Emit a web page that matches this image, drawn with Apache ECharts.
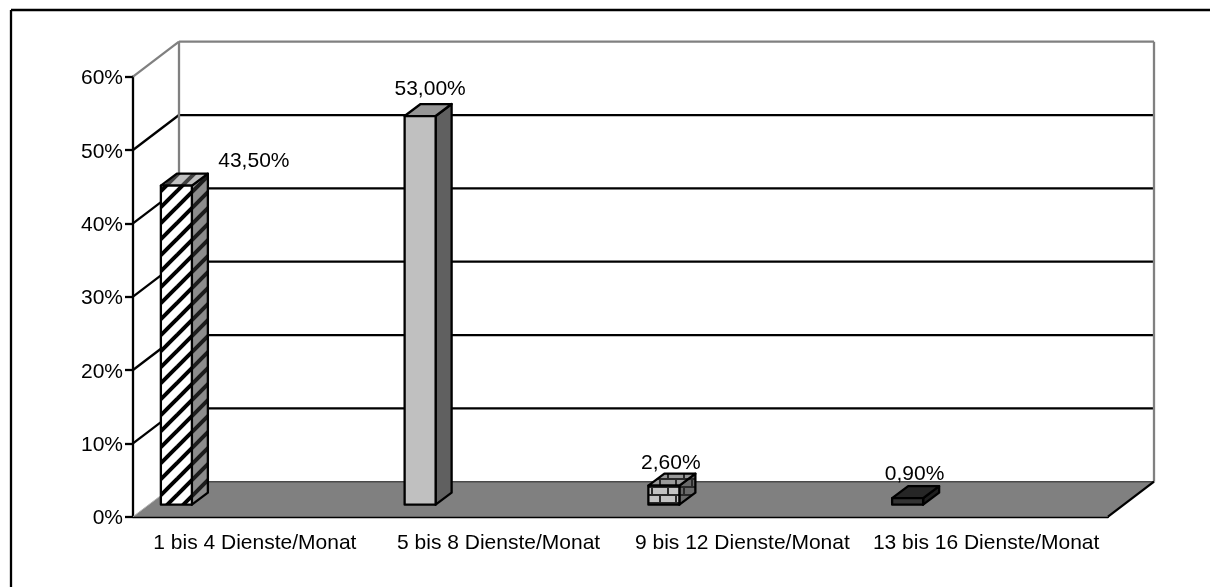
<!DOCTYPE html>
<html>
<head>
<meta charset="utf-8">
<style>html,body{margin:0;padding:0;background:#fff}#c{width:1210px;height:587px}</style>
<script src="https://cdn.jsdelivr.net/npm/echarts@6/dist/echarts.min.js"></script>
</head>
<body>
<div id="c"></div>
<script>
const categories = ['1 bis 4 Dienste/Monat', '5 bis 8 Dienste/Monat', '9 bis 12 Dienste/Monat', '13 bis 16 Dienste/Monat'];
const shares = [43.5, 53, 2.6, 0.9];
const shareLabels = ['43,50%', '53,00%', '2,60%', '0,90%'];
const yTicks = [0, 10, 20, 30, 40, 50, 60];

const DEPTH_X = 46, DEPTH_Y = 35;      // full floor depth of the pseudo-3D box
const BAR_DX = 16, BAR_DY = 12;        // bar depth (and its inset from the front edge)
const BAR_W = 31, BAR_SHIFT = -78.5;   // bar width, shift from category centre
const LABEL_SHIFT = [[77.5, -24], [10, -27], [7, -22], [7, -24]];
const FONT = '"Liberation Sans", Arial, sans-serif';
const FONT_SIZE = 21;
const LINE_W = 2.3;

function tile(w, h, draw) {
  const c = document.createElement('canvas');
  c.width = w; c.height = h;
  draw(c.getContext('2d'));
  return { image: c, repeat: 'repeat' };
}
function stripes(bg, fg) {
  const P = 16;
  return tile(P, P, g => {
    g.fillStyle = bg; g.fillRect(0, 0, P, P);
    g.strokeStyle = fg; g.lineWidth = 4;
    [[-P / 2, P / 2, P / 2, -P / 2], [0, P, P, 0], [P / 2, P * 1.5, P * 1.5, P / 2]].forEach(s => {
      g.beginPath(); g.moveTo(s[0], s[1]); g.lineTo(s[2], s[3]); g.stroke();
    });
  });
}
function bricks(bg, mortar) {
  return tile(16, 16, g => {
    g.fillStyle = bg; g.fillRect(0, 0, 16, 16);
    g.strokeStyle = mortar; g.lineWidth = 2;
    g.beginPath();
    g.moveTo(0, 7); g.lineTo(16, 7);
    g.moveTo(0, 15); g.lineTo(16, 15);
    g.moveTo(12, 7); g.lineTo(12, 15);
    g.moveTo(4, 15); g.lineTo(4, 16);
    g.moveTo(4, 0); g.lineTo(4, 7);
    g.stroke();
  });
}
const barFaces = [
  { front: stripes('#ffffff', '#000000'), top: stripes('#c0c0c0', '#404040'), side: stripes('#8c8c8c', '#1c1c1c') },
  { front: '#c0c0c0', top: '#969696', side: '#606060' },
  { front: bricks('#c4c4c4', '#2a2a2a'), top: bricks('#9a9a9a', '#2a2a2a'), side: bricks('#6a6a6a', '#2a2a2a') },
  { front: '#333333', top: '#262626', side: '#1e1e1e' }
];

const chart = echarts.init(document.getElementById('c'), null, { renderer: 'canvas' });
const GRID = { left: 133, top: 76.7, width: 975, height: 440 };

function poly(pts, style) {
  return { type: 'polygon', shape: { points: pts }, style };
}
function seg(x1, y1, x2, y2, color, w) {
  return { type: 'line', shape: { x1, y1, x2, y2 }, style: { stroke: color, lineWidth: w, fill: null } };
}

function renderFloor(params, api) {
  const cs = params.coordSys;
  const y = api.coord([0, 0])[1];
  const L = cs.x, R = cs.x + cs.width;
  return {
    type: 'group',
    children: [
      poly([[L, y], [R, y], [R + DEPTH_X, y - DEPTH_Y], [L + DEPTH_X, y - DEPTH_Y]], { fill: '#808080', stroke: null }),
      seg(L + DEPTH_X, y - DEPTH_Y, R + DEPTH_X, y - DEPTH_Y, '#4a4a4a', 1.5),
      seg(L, y, L + DEPTH_X, y - DEPTH_Y, '#b4b4b4', 1),
      seg(R, y, R + DEPTH_X, y - DEPTH_Y, '#000000', LINE_W)
    ]
  };
}
function renderWall(params, api) {
  const cs = params.coordSys;
  const v = api.value(1);
  const y = api.coord([0, v])[1];
  const L = cs.x, R = cs.x + cs.width;
  const kids = [];
  if (v === 60) {
    const y0 = api.coord([0, 0])[1];
    kids.push(seg(L + DEPTH_X, y - DEPTH_Y, L + DEPTH_X, y0 - DEPTH_Y, '#808080', LINE_W));
    kids.push(seg(R + DEPTH_X, y - DEPTH_Y, R + DEPTH_X, y0 - DEPTH_Y, '#808080', LINE_W));
  }
  if (v > 0) {
    const col = v === 60 ? '#808080' : '#000000';
    kids.push(seg(L, y, L + DEPTH_X, y - DEPTH_Y, col, LINE_W));
    kids.push(seg(L + DEPTH_X, y - DEPTH_Y, R + DEPTH_X, y - DEPTH_Y, col, LINE_W));
  }
  return { type: 'group', children: kids };
}
function renderBar(params, api) {
  const i = params.dataIndex;
  const p = api.coord([i, api.value(1)]);
  const base = api.coord([i, 0]);
  const x0 = p[0] + BAR_SHIFT - BAR_W / 2, x1 = x0 + BAR_W;
  const yt = p[1] - BAR_DY, yb = base[1] - BAR_DY;
  const f = barFaces[i];
  const edge = { stroke: '#000000', lineWidth: LINE_W, lineJoin: 'round' };
  return {
    type: 'group',
    children: [
      poly([[x1, yt], [x1 + BAR_DX, yt - BAR_DY], [x1 + BAR_DX, yb - BAR_DY], [x1, yb]], Object.assign({ fill: f.side }, edge)),
      poly([[x0, yt], [x0 + BAR_DX, yt - BAR_DY], [x1 + BAR_DX, yt - BAR_DY], [x1, yt]], Object.assign({ fill: f.top }, edge)),
      poly([[x0, yt], [x1, yt], [x1, yb], [x0, yb]], Object.assign({ fill: f.front }, edge)),
      {
        type: 'text',
        style: {
          x: x0 + BAR_W / 2 + LABEL_SHIFT[i][0], y: p[1] + LABEL_SHIFT[i][1] - BAR_DY,
          text: shareLabels[i], fill: '#000', font: FONT_SIZE + 'px ' + FONT, align: 'center', verticalAlign: 'middle'
        }
      }
    ]
  };
}

chart.setOption({
  animation: false,
  backgroundColor: '#ffffff',
  grid: GRID,
  xAxis: {
    type: 'category',
    data: categories,
    axisLine: { lineStyle: { color: '#000', width: LINE_W } },
    axisTick: { length: 8, lineStyle: { color: '#000', width: LINE_W } },
    axisLabel: { color: '#000', fontFamily: FONT, fontSize: FONT_SIZE, margin: 16, interval: 0 },
    splitLine: { show: false }
  },
  yAxis: {
    type: 'value',
    min: 0, max: 60, interval: 10,
    axisLine: { show: true, lineStyle: { color: '#000', width: LINE_W } },
    axisTick: { show: true, length: 8, lineStyle: { color: '#000', width: LINE_W } },
    axisLabel: {
      margin: 10,
      formatter: v => '{a|' + v + '%}',
      rich: { a: { color: '#000', fontFamily: FONT, fontSize: FONT_SIZE, padding: [4, 0, 0, 0] } }
    },
    splitLine: { show: false }
  },
  graphic: [
    { type: 'line', z: 100, shape: { x1: 11, y1: 10, x2: 1210, y2: 10 }, style: { stroke: '#000', lineWidth: LINE_W } },
    { type: 'line', z: 100, shape: { x1: 11, y1: 10, x2: 11, y2: 587 }, style: { stroke: '#000', lineWidth: LINE_W } }
  ],
  series: [
    { type: 'custom', z: 1, clip: false, silent: true, data: yTicks.map(v => [0, v]), renderItem: renderWall, encode: { x: 0, y: 1 } },
    { type: 'custom', z: 2, clip: false, silent: true, data: [[0, 0]], renderItem: renderFloor, encode: { x: 0, y: 1 } },
    { type: 'custom', z: 3, clip: false, silent: true, data: shares.map((v, i) => [i, v]), renderItem: renderBar, encode: { x: 0, y: 1 } }
  ]
});
</script>
</body>
</html>
